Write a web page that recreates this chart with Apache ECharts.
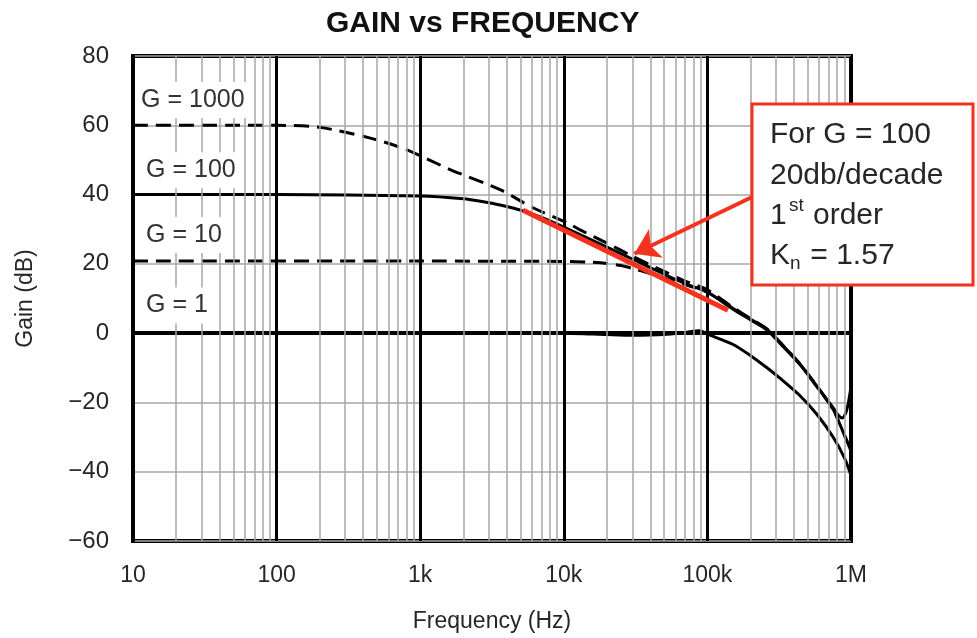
<!DOCTYPE html>
<html>
<head>
<meta charset="utf-8">
<style>
  html, body { margin: 0; padding: 0; background: #fff; }
  #chart { width: 977px; height: 638px; }
</style>
<script src="https://cdn.jsdelivr.net/npm/echarts@6/dist/echarts.min.js"></script>
</head>
<body>
<div id="chart"></div>
<script>
// Decade ticks on the frequency axis and their printed labels
const decades = [10, 100, 1000, 10000, 100000, 1000000];
const tickLabels = ['10', '100', '1k', '10k', '100k', '1M'];

// G = 1 response (Hz, dB)
const g1Freq = [10, 1000, 10000, 20000, 30000, 50000, 70000, 88000, 100000, 150000, 200000, 260000, 320000, 440000, 580000, 750000, 900000, 1000000];
const g1Gain = [0, 0, 0, -0.4, -0.6, -0.4, 0.2, 0.7, -0.3, -3.2, -6.5, -10, -13, -18, -23.5, -30, -36, -41];

// G = 10 response
const g10Freq = [10, 1000, 10000, 15000, 20000, 25000, 30000, 40000, 50000, 70000, 100000, 150000, 200000, 260000, 320000, 440000, 580000, 750000, 850000, 1000000];
const g10Gain = [20.8, 20.8, 20.7, 20.5, 20.1, 19.5, 18.7, 17.2, 16, 14, 11.8, 7.2, 4, 1.1, -2.7, -8.9, -15.4, -22, -27, -34];

// G = 100 response
const g100Freq = [10, 100, 1000, 2000, 2700, 3600, 5200, 7000, 10000, 20000, 30000, 50000, 70000, 100000, 150000, 200000, 260000, 320000, 440000, 580000, 750000, 820000, 870000, 920000, 960000, 1000000];
const g100Gain = [40, 40, 39.6, 38.8, 38, 37, 35.3, 33.4, 30.6, 24.8, 21.4, 17, 14.3, 11.8, 7, 3.8, 0.9, -2.9, -9, -15.5, -21.5, -23.8, -24.5, -23, -20, -15.5];

// G = 1000 response
const g1000Freq = [10, 100, 200, 450, 800, 1600, 3600, 6100, 10500, 13000, 20000, 30000, 50000, 70000, 100000, 150000, 200000, 260000, 320000, 440000, 580000, 750000, 850000, 1000000];
const g1000Gain = [60, 60, 59.4, 56.3, 53, 47.3, 41.4, 36.2, 31.9, 29.8, 26, 22.2, 17.8, 15, 12.5, 7.5, 4.2, 1.2, -2.6, -8.8, -15.3, -22, -27, -34];

// 20 dB/decade first-order slope drawn for G = 100
const slopeFreq = [5200, 139000];
const slopeGain = [35.5, 6.6];

const pairs = (xs, ys) => xs.map((x, i) => [x, ys[i]]);

// Minor vertical grid lines: 2..9 within each decade
const minorFreqs = [];
decades.slice(0, -1).forEach(d => { for (let k = 2; k <= 9; k++) minorFreqs.push(d * k); });

const FONT = "'Liberation Sans', Arial, sans-serif";
const TXT = '#262626';

const curveLabel = (name, coord, padL) => ({
  coord: coord,
  symbolSize: 0,
  label: {
    show: true,
    position: 'right',
    distance: 0,
    formatter: name,
    color: '#333',
    fontFamily: FONT,
    fontSize: 25,
    backgroundColor: '#fff',
    padding: [6, 3, 5, padL]
  }
});

const boxText = (text, x, y, size) => ({
  type: 'text', x: x, y: y, z: 101,
  style: { text: text, fontFamily: FONT, fontSize: size, fill: TXT, verticalAlign: 'middle' }
});

const chart = echarts.init(document.getElementById('chart'), null, { renderer: 'canvas' });

chart.setOption({
  animation: false,
  backgroundColor: '#fff',
  title: {
    text: 'GAIN vs FREQUENCY',
    left: 321,
    top: 4,
    textStyle: { fontFamily: FONT, fontSize: 30, fontWeight: 'bold', color: '#111' }
  },
  grid: {
    left: 133, top: 56, width: 718, height: 485,
    show: true, borderColor: '#000', borderWidth: 4, backgroundColor: '#fff'
  },
  xAxis: {
    type: 'log',
    logBase: 10,
    min: 10,
    max: 1000000,
    name: 'Frequency (Hz)',
    nameLocation: 'middle',
    nameGap: 69,
    nameTextStyle: { fontFamily: FONT, fontSize: 23, color: TXT },
    axisLine: { show: true, lineStyle: { color: '#000', width: 4 } },
    axisTick: { show: false },
    axisLabel: {
      margin: 23,
      fontFamily: FONT, fontSize: 23, color: TXT,
      formatter: v => tickLabels[Math.round(Math.log10(v)) - 1]
    },
    splitLine: { show: true, lineStyle: { color: '#000', width: 3 } }
  },
  yAxis: {
    type: 'value',
    min: -60,
    max: 80,
    interval: 20,
    name: 'Gain (dB)',
    nameLocation: 'middle',
    nameGap: 96,
    nameRotate: 90,
    nameTextStyle: { fontFamily: FONT, fontSize: 23, color: TXT },
    axisLine: { show: true, lineStyle: { color: '#000', width: 4 } },
    axisTick: { show: false },
    axisLabel: {
      margin: 24,
      fontFamily: FONT, fontSize: 24, color: TXT,
      formatter: v => (v < 0 ? '\u2212' + (-v) : String(v))
    },
    splitLine: { show: true, lineStyle: { color: '#a6a6a6', width: 1.5 } }
  },
  series: [
    {
      // minor grid
      type: 'line',
      z: 1,
      silent: true,
      data: [],
      markLine: {
        silent: true,
        symbol: ['none', 'none'],
        label: { show: false },
        lineStyle: { color: '#a6a6a6', width: 1.5, type: 'solid' },
        data: minorFreqs.map(f => ({ xAxis: f }))
      }
    },
    {
      // curve name labels
      type: 'line',
      z: 2,
      silent: true,
      data: [],
      markPoint: {
        silent: true,
        symbol: 'rect',
        data: [
          curveLabel('G = 1000', [10.5, 67.3], 5),
          curveLabel('G = 100', [10.5, 47.0], 10),
          curveLabel('G = 10', [10.5, 28.3], 10),
          curveLabel('G = 1', [10.5, 8.0], 10)
        ]
      }
    },
    {
      name: 'G = 1', type: 'line', z: 3, smooth: 0.25, showSymbol: false,
      lineStyle: { color: '#000', width: 3 },
      data: pairs(g1Freq, g1Gain)
    },
    {
      name: 'G = 10', type: 'line', z: 3, smooth: 0.25, showSymbol: false,
      lineStyle: { color: '#000', width: 3, type: [15, 8] },
      data: pairs(g10Freq, g10Gain)
    },
    {
      name: 'G = 100', type: 'line', z: 3, smooth: 0.25, showSymbol: false,
      lineStyle: { color: '#000', width: 3 },
      data: pairs(g100Freq, g100Gain)
    },
    {
      name: 'G = 1000', type: 'line', z: 3, smooth: 0.25, showSymbol: false,
      lineStyle: { color: '#000', width: 3, type: [15, 8] },
      data: pairs(g1000Freq, g1000Gain)
    },
    {
      name: 'slope', type: 'line', z: 5, showSymbol: false,
      lineStyle: { color: '#f5321e', width: 5 },
      data: pairs(slopeFreq, slopeGain),
      markLine: {
        silent: true,
        symbol: ['none', 'arrow'],
        symbolSize: 24,
        label: { show: false },
        lineStyle: { color: '#f5321e', width: 4, type: 'solid' },
        data: [[{ coord: [205000, 39.3] }, { coord: [31000, 22.9] }]]
      }
    }
  ],
  graphic: [
    {
      type: 'rect', z: 100,
      shape: { x: 752, y: 104, width: 221, height: 181 },
      style: { fill: '#fff', stroke: '#f0321e', lineWidth: 3 }
    },
    boxText('For G = 100', 770, 135, 30),
    boxText('20db/decade', 770, 176, 30),
    boxText('1', 770, 216, 30),
    boxText('st', 789, 206, 19),
    boxText('order', 813, 216, 30),
    boxText('K', 770, 256, 30),
    boxText('n', 790, 264, 19),
    boxText(' = 1.57', 802, 256, 30)
  ]
});
</script>
</body>
</html>
